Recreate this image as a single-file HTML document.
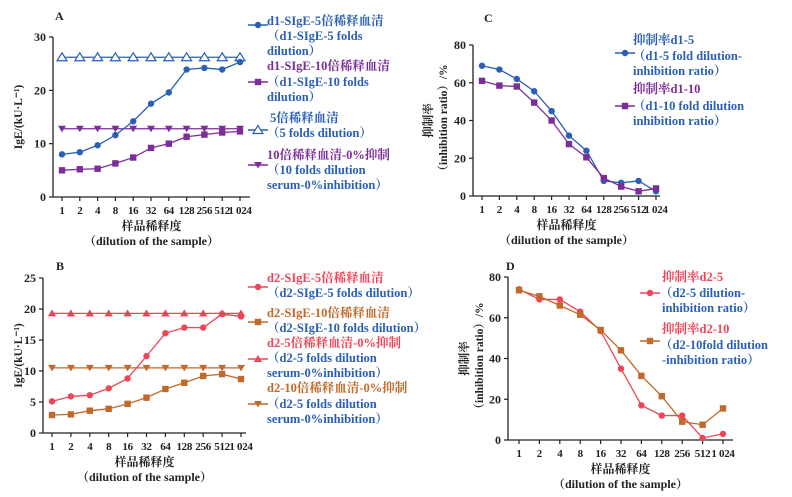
<!DOCTYPE html>
<html><head><meta charset="utf-8"><style>
body{margin:0;background:#fff;}
svg{display:block;font-family:"Liberation Serif","Noto Serif CJK SC",serif;font-weight:bold;}
</style></head><body>
<svg id="c" width="792" height="497" viewBox="0 0 792 497" xmlns="http://www.w3.org/2000/svg"></svg>
<script>
const categories=["1","2","4","8","16","32","64","128","256","512","1 024"];
const aD15=[8.0,8.4,9.7,11.6,14.2,17.5,19.6,23.9,24.2,23.9,25.3];
const aD110=[5.0,5.2,5.3,6.3,7.4,9.2,10.0,11.3,11.7,12.1,12.3];
const a5x=[26.2,26.2,26.2,26.2,26.2,26.2,26.2,26.2,26.2,26.2,26.2];
const a10x=[12.8,12.8,12.8,12.8,12.8,12.8,12.8,12.8,12.8,12.8,12.8];
const bD25=[5.1,5.9,6.1,7.2,8.8,12.4,16.1,17.0,17.0,19.2,18.8];
const bD210=[2.9,3.0,3.6,3.9,4.7,5.7,7.1,8.1,9.2,9.5,8.7];
const b5x=[19.3,19.3,19.3,19.3,19.3,19.3,19.3,19.3,19.3,19.3,19.3];
const b10x=[10.5,10.5,10.5,10.5,10.5,10.5,10.5,10.5,10.5,10.5,10.5];
const cD15=[69,67,62,55.5,45,32,24,8,7,8,2.5];
const cD110=[61,58.5,58,49.5,40,27.5,20.5,9.5,5,2.5,4];
const dD25=[74,69,69,63,53.5,35,17,12,12,1,3];
const dD210=[73.5,70.5,66,61.5,54,44,31.5,21.5,9,7.5,15.5];
const ticksA=[0,10,20,30],ticksB=[0,5,10,15,20,25],ticksC=[0,20,40,60,80];

const BLUE="#2a5fb5",PURP="#7b2d98",RED="#f04458",ORG="#c0692a";
const svg=document.getElementById('c');
const NS="http://www.w3.org/2000/svg";
function el(t,a,p){const e=document.createElementNS(NS,t);for(const k in a)e.setAttribute(k,a[k]);(p||svg).appendChild(e);return e;}
function txt(s,x,y,a,p){const e=el('text',Object.assign({x:x,y:y},a),p);e.textContent=s;return e;}
function marker(g,type,x,y,c){
  if(type==='circle')return el('circle',{cx:x,cy:y,r:3.2,fill:c},g);
  if(type==='square')return el('rect',{x:x-3.2,y:y-3.2,width:6.4,height:6.4,fill:c},g);
  if(type==='tri')return el('polygon',{points:`${x},${y-4} ${x-4.2},${y+3} ${x+4.2},${y+3}`,fill:c},g);
  if(type==='triO')return el('polygon',{points:`${x},${y-4.5} ${x-5},${y+3.5} ${x+5},${y+3.5}`,fill:'#fff',stroke:c,'stroke-width':1.2},g);
  if(type==='triD')return el('polygon',{points:`${x},${y+3.5} ${x-4},${y-3} ${x+4},${y-3}`,fill:c},g);
}
function panel(o){
  const g=el('g',{});
  
  
  const ys=v=>o.y0+(o.y1-o.y0)*(v-o.min)/(o.max-o.min);
  const xs=i=>o.x0+i*o.dx;
  el('line',{x1:o.ax,y1:o.y1,x2:o.ax,y2:o.y0,stroke:'#222','stroke-width':1.3},g);
  el('line',{x1:o.ax,y1:o.y0,x2:o.axEnd,y2:o.y0,stroke:'#222','stroke-width':1.3},g);
  o.ticks.forEach(t=>{const y=ys(t);el('line',{x1:o.ax-4,y1:y,x2:o.ax,y2:y,stroke:'#222','stroke-width':1.2},g);
    const l=txt(String(t),o.ax-7,y+4,{'font-size':12,'text-anchor':'end',fill:'#222'},g);
    });
  categories.forEach((c,i)=>{const x=xs(i);el('line',{x1:x,y1:o.y0,x2:x,y2:o.y0+4,stroke:'#222','stroke-width':1.2},g);
    const l=txt(c,x,o.y0+17,{'font-size':11,'text-anchor':'middle',fill:'#222','letter-spacing':'-0.3'},g);
    });
  const xc=(o.ax+o.axEnd)/2;
  let t=txt('样品稀释度',xc,o.y0+33,{'font-size':12,'text-anchor':'middle',fill:'#222'},g);
  
  t=txt('（dilution of the sample）',xc,o.y0+48,{'font-size':12,'text-anchor':'middle',fill:'#222'},g);
  
  const ym=(o.y0+o.y1)/2;
  o.ylab.forEach((s,k)=>{const xx=o.ylx+k*15;const e=txt(s,xx,ym,{'font-size':11.5,'text-anchor':'middle',fill:'#222',transform:`rotate(-90 ${xx} ${ym})`},g);
    });
  t=txt(o.letter,o.lx,o.ly,{'font-size':12,fill:'#222'},g);
  
  o.series.forEach(s=>{
    const sg=el('g',{},g);
    
    
    el('polyline',{points:s.data.map((v,i)=>xs(i)+','+ys(v)).join(' '),fill:'none',stroke:s.c,'stroke-width':1.3},sg);
    s.data.forEach((v,i)=>{const m=marker(sg,s.m,xs(i),ys(v),s.c);});
  });
  o.legend.forEach(L=>{
    const lg=el('g',{},g);
    
    
    el('line',{x1:L.mx,y1:L.my,x2:L.mx+20,y2:L.my,stroke:L.c,'stroke-width':1.5},lg);
    marker(lg,L.m,L.mx+10,L.my,L.c);
    L.lines.forEach(ln=>txt(ln[0],ln[1],ln[2],{'font-size':12.5,fill:ln[3]||BLUE},lg));
  });
}
panel({name:'panel-a',letter:'A',lx:55,ly:20,ax:53,axEnd:250,x0:62,dx:17.8,y0:197,y1:37,min:0,max:30,ticks:ticksA,
 ylab:['IgE/(kU·L⁻¹)'],ylx:22,
 series:[{name:'series-5x',data:a5x,c:BLUE,m:'triO'},{name:'series-10x',data:a10x,c:PURP,m:'triD'},
  {name:'series-d1-5',data:aD15,c:BLUE,m:'circle'},{name:'series-d1-10',data:aD110,c:PURP,m:'square'}],
 legend:[{mx:248,my:25,c:BLUE,m:'circle',lines:[['d1-SIgE-5倍稀释血清',267,25],['（d1-SIgE-5 folds',267,40],['dilution）',267,55]]},
  {mx:248,my:82,c:PURP,m:'square',lines:[['d1-SIgE-10倍稀释血清',267,70,PURP],['（d1-SIgE-10 folds',267,86],['dilution）',267,101]]},
  {mx:248,my:130,c:BLUE,m:'triO',lines:[['5倍稀释血清',270,122],['（5 folds dilution）',267,137]]},
  {mx:248,my:165,c:PURP,m:'triD',lines:[['10倍稀释血清-0%抑制',267,159,PURP],['（10 folds dilution',267,174],['serum-0%inhibition）',267,189]]}]});
panel({name:'panel-b',letter:'B',lx:56,ly:270,ax:43,axEnd:246,x0:52,dx:18.9,y0:433,y1:278,min:0,max:25,ticks:ticksB,
 ylab:['IgE/(kU·L⁻¹)'],ylx:22,
 series:[{name:'series-5x',data:b5x,c:RED,m:'tri'},{name:'series-10x',data:b10x,c:ORG,m:'triD'},
  {name:'series-d2-5',data:bD25,c:RED,m:'circle'},{name:'series-d2-10',data:bD210,c:ORG,m:'square'}],
 legend:[{mx:248,my:287,c:RED,m:'circle',lines:[['d2-SIgE-5倍稀释血清',267,282,RED],['（d2-SIgE-5 folds dilution）',267,297]]},
  {mx:248,my:322,c:ORG,m:'square',lines:[['d2-SIgE-10倍稀释血清',267,317,ORG],['（d2-SIgE-10 folds dilution）',267,332],['d2-5倍稀释血清-0%抑制',267,347,RED]]},
  {mx:248,my:359,c:RED,m:'tri',lines:[['（d2-5 folds dilution',267,362],['serum-0%inhibition）',267,377]]},
  {mx:248,my:404,c:ORG,m:'triD',lines:[['d2-10倍稀释血清-0%抑制',267,392,ORG],['（d2-5 folds dilution',267,408],['serum-0%inhibition）',267,423]]}]});
panel({name:'panel-c',letter:'C',lx:484,ly:22,ax:473,axEnd:660,x0:482,dx:17.4,y0:196,y1:45,min:0,max:80,ticks:ticksC,
 ylab:['抑制率','（inhibition ratio）/%'],ylx:432,
 series:[{name:'series-d1-5',data:cD15,c:BLUE,m:'circle'},{name:'series-d1-10',data:cD110,c:PURP,m:'square'}],
 legend:[{mx:615,my:53,c:BLUE,m:'circle',lines:[['抑制率d1-5',633,44],['（d1-5 fold dilution-',633,60],['inhibition ratio）',633,75]]},
  {mx:615,my:106,c:PURP,m:'square',lines:[['抑制率d1-10',633,93,PURP],['（d1-10 fold dilution',633,110],['inhibition ratio）',633,125]]}]});
panel({name:'panel-d',letter:'D',lx:506,ly:270,ax:508,axEnd:733,x0:519,dx:20.4,y0:440,y1:277,min:0,max:80,ticks:ticksC,
 ylab:['抑制率','（inhibition ratio）/%'],ylx:468,
 series:[{name:'series-d2-5',data:dD25,c:RED,m:'circle'},{name:'series-d2-10',data:dD210,c:ORG,m:'square'}],
 legend:[{mx:640,my:293,c:RED,m:'circle',lines:[['抑制率d2-5',662,281,RED],['（d2-5 dilution-',660,297],['inhibition ratio）',662,312]]},
  {mx:640,my:341,c:ORG,m:'square',lines:[['抑制率d2-10',662,333,RED],['（d2-10fold dilution',660,349],['-inhibition ratio）',662,364]]}]});
</script>
</body></html>
